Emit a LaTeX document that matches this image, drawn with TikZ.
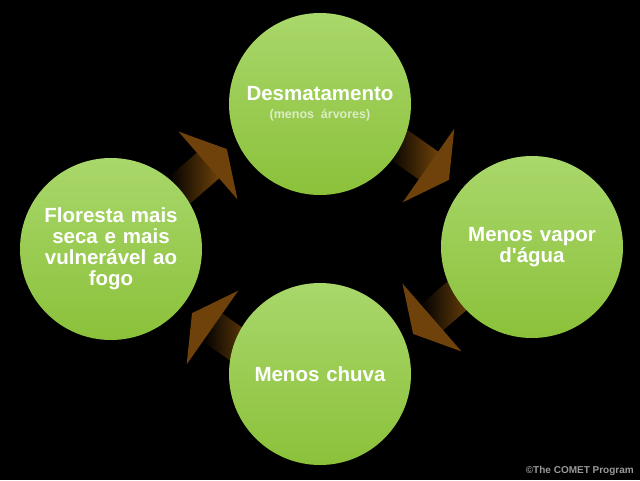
\documentclass[tikz,border=0pt]{standalone}
\usepackage{fontspec}
\setmainfont{Liberation Sans}
\usetikzlibrary{positioning}
\definecolor{leafhi}{HTML}{A9D76B}
\definecolor{leaflo}{HTML}{8BC13A}
\definecolor{barkbrown}{HTML}{6E420A}
\tikzset{
  stage/.style={circle, minimum size=182pt, inner sep=0pt, top color=leafhi,
    bottom color=leaflo, text=white, font=\bfseries\fontsize{20.5}{21}\selectfont,
    align=center, text width=150pt},
  fadeshaft/.style={left color=black, right color=barkbrown}
}
% block arrow with fading shaft, base of head at origin, pointing +x
\newcommand{\cyclearrow}[2]{%
  \begin{scope}[shift={#1}, rotate=#2]
    \shade[fadeshaft] (-38,-17) rectangle (0.5,17);
    \fill[barkbrown] (0,-45) -- (25,0) -- (0,45) -- cycle;
  \end{scope}}
\begin{document}
\begin{tikzpicture}[x=1pt,y=1pt]
\fill[black] (0,0) rectangle (640,480);
\useasboundingbox (0,0) rectangle (640,480);
%
\cyclearrow{(208,314.5)}{41}
\cyclearrow{(428.5,314.5)}{-35}
\cyclearrow{(432,162.5)}{221}
\cyclearrow{(212.5,152.5)}{145}
%%% the four stages of the cycle
\node[stage] (desmat) at (320,376) {Desmatamento\\[-3pt]
  {\fontsize{12.5}{13}\selectfont\color{white!70!leaflo}(menos árvores)}};
\node[stage] (vapor) at (532,233) {Menos vapor\\d\textquotesingle água};
\node[stage] (chuva) at (320,106) {Menos chuva};
\node[stage] (floresta) at (111,231) {Floresta mais\\seca e mais\\vulnerável ao\\fogo};
%
\node[anchor=south east, text=gray!80, font=\bfseries\fontsize{10}{11}\selectfont,
  inner sep=2pt] (credit) at (636,2) {©The COMET Program};
\end{tikzpicture}
\end{document}
